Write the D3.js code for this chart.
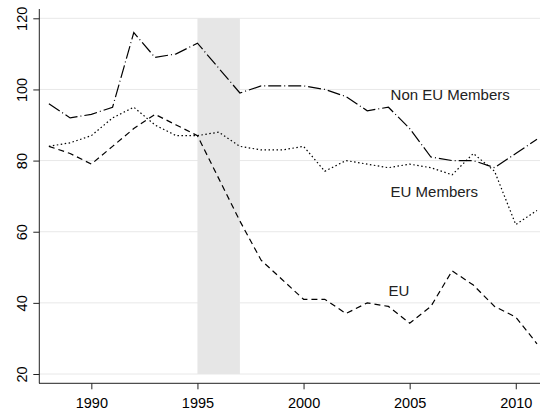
<!DOCTYPE html>
<html>
<head>
<meta charset="utf-8">
<script src="https://cdn.jsdelivr.net/npm/d3@7"></script>
<style>
  body { margin: 0; background: #fff; }
  text { font-family: "Liberation Sans", Arial, sans-serif; }
</style>
</head>
<body>
<script>
// data
const years = d3.range(1988, 2012)
const nonEU = [96, 92, 93, 95, 116, 109, 110, 113, 106, 99, 101, 101, 101, 100, 98, 94, 95, 89, 81, 80, 80, 78, 82, 86]
const euMembers = [84, 85, 87, 92, 95, 90, 87, 87, 88, 84, 83, 83, 84, 77, 80, 79, 78, 79, 78, 76, 82, 77, 62, 66]
const eu = [84, 82, 79, 84, 89, 93, 90, 87, 75, 63, 52, 46.5, 41, 41, 37, 40, 39, 34.3, 39, 49, 45, 39, 36, 28.5]
const yTicks = [20, 40, 60, 80, 100, 120]
const xTicks = [1990, 1995, 2000, 2005, 2010]
const band = [1995, 1997]

const width = 540, height = 413

const x = d3.scaleLinear().domain([1988, 2011]).range([48.9, 537])
const y = d3.scaleLinear().domain([20, 120]).range([374, 18.3])

const svg = d3.select('body').append('svg')
  .attr('width', width)
  .attr('height', height)

// gridlines
svg.append('g').selectAll('line').data(yTicks).join('line')
  .attr('x1', 39).attr('x2', 540)
  .attr('y1', d => y(d)).attr('y2', d => y(d))
  .attr('stroke', '#e8e8e8').attr('stroke-width', 1)

// shaded period
svg.append('rect')
  .attr('x', x(band[0]))
  .attr('y', y(120))
  .attr('width', x(band[1]) - x(band[0]))
  .attr('height', y(20) - y(120))
  .attr('fill', '#e6e6e6')

// series
const line = d3.line().x((d, i) => x(years[i])).y(d => y(d))
const series = [
  {values: nonEU, dash: '13,3,1,3'},
  {values: euMembers, dash: '1.5,2.5'},
  {values: eu, dash: '6,4'}
]
svg.append('g').selectAll('path').data(series).join('path')
  .attr('d', d => line(d.values))
  .attr('fill', 'none')
  .attr('stroke', '#000')
  .attr('stroke-width', 1.2)
  .attr('stroke-dasharray', d => d.dash)

// axes
const xAxis = d3.axisBottom(x).tickValues(xTicks).tickFormat(d3.format('d')).tickSize(6).tickSizeOuter(0)
svg.append('g')
  .attr('transform', 'translate(0,383.3)')
  .call(xAxis)
  .call(g => g.select('.domain').attr('d', 'M39,0H540'))
  .call(g => g.selectAll('text').attr('font-size', 14.5).attr('fill', '#000').attr('font-family', '"Liberation Sans", Arial, sans-serif').attr('dy', '1.05em'))
  .call(g => g.selectAll('line, path').attr('stroke', '#222'))

const yAxis = d3.axisLeft(y).tickValues(yTicks).tickSize(6).tickSizeOuter(0)
svg.append('g')
  .attr('transform', 'translate(39.3,0)')
  .call(yAxis)
  .call(g => g.select('.domain').attr('d', 'M0,9V383.3'))
  .call(g => g.selectAll('.tick text')
    .attr('font-size', 14.5).attr('fill', '#000')
    .attr('font-family', '"Liberation Sans", Arial, sans-serif')
    .attr('x', null).attr('dy', null)
    .attr('text-anchor', 'middle')
    .attr('transform', 'translate(-12,0) rotate(-90)'))
  .call(g => g.selectAll('line, path').attr('stroke', '#222'))

// labels
const labels = [
  {text: 'Non EU Members', year: 2004.1, value: 97},
  {text: 'EU Members', year: 2004.1, value: 69.8},
  {text: 'EU', year: 2004, value: 41.9}
]
svg.append('g').selectAll('text').data(labels).join('text')
  .attr('x', d => x(d.year))
  .attr('y', d => y(d.value))
  .attr('font-size', 15)
  .attr('fill', '#222')
  .text(d => d.text)
</script>
</body>
</html>
